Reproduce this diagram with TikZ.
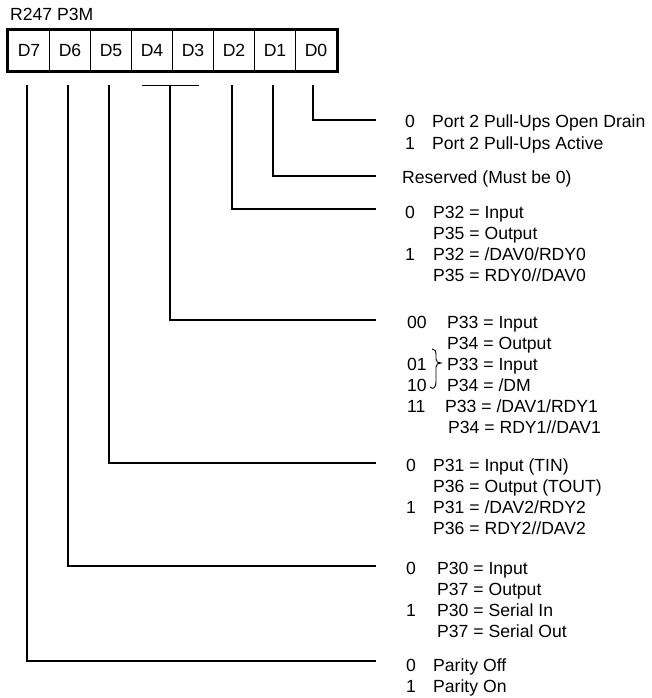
\documentclass[tikz,border=0pt]{standalone}
\usepackage{fontspec}
\setmainfont{Liberation Sans}
\begin{document}
\begin{tikzpicture}[x=1pt,y=-1pt,
  cell/.style={draw, line width=1.8pt, minimum width=41pt, minimum height=40pt, inner sep=0pt, font=\fontsize{17.6}{21}\selectfont},
  txt/.style={anchor=base west, inner sep=0pt, font=\fontsize{17.6}{21}\selectfont},
  wire/.style={line width=1.8pt}]
\useasboundingbox (0,0) rectangle (652,698);
% title
\node[txt] (title) at (10,21) {R247 P3M};
% register cells
\node[cell] (d7) at (29,50.5) {D7};
\node[cell] (d6) at (70,50.5) {D6};
\node[cell] (d5) at (111,50.5) {D5};
\node[cell] (d4) at (152,50.5) {D4};
\node[cell] (d3) at (193,50.5) {D3};
\node[cell] (d2) at (234,50.5) {D2};
\node[cell] (d1) at (275,50.5) {D1};
\node[cell] (d0) at (316,50.5) {D0};
\draw[line width=3.5pt] (d7.north west) rectangle (d0.south east);
% wire start / end points
\coordinate (s0) at (313,85.5);  \coordinate (e0) at (376,120);
\coordinate (s1) at (273,85.5);  \coordinate (e1) at (376,176);
\coordinate (s2) at (232,85.5);  \coordinate (e2) at (376,209);
\coordinate (s3) at (170,85.5);  \coordinate (e3) at (376,320);
\coordinate (tl) at (142,85.5);  \coordinate (tr) at (199,85.5);
\coordinate (s5) at (109,85.5);  \coordinate (e5) at (376,463);
\coordinate (s6) at (68,85.5);   \coordinate (e6) at (376,566);
\coordinate (s7) at (27,85.5);   \coordinate (e7) at (376,661);
\draw[wire] (s0) |- (e0);
\draw[wire] (s1) |- (e1);
\draw[wire] (s2) |- (e2);
\draw[wire] (tl) -- (tr);
\draw[wire] (s3) |- (e3);
\draw[wire] (s5) |- (e5);
\draw[wire] (s6) |- (e6);
\draw[wire] (s7) |- (e7);
% D0
\node[txt] (n0a) at (405,128) {0};  \node[txt] (t0a) at (432,128) {Port 2 Pull-Ups Open Drain};
\node[txt] (n0b) at (405,149) {1};  \node[txt] (t0b) at (432,149) {Port 2 Pull-Ups Active};
% D1
\node[txt] (t1a) at (402,183) {Reserved (Must be 0)};
% D2
\node[txt] (n2a) at (405,218) {0};  \node[txt] (t2a) at (433,218) {P32 = Input};
\node[txt] (t2b) at (433,239) {P35 = Output};
\node[txt] (n2c) at (405,260) {1};  \node[txt] (t2c) at (433,260) {P32 = /DAV0/RDY0};
\node[txt] (t2d) at (433,281) {P35 = RDY0//DAV0};
% D4 D3
\node[txt] (n3a) at (407,328) {00}; \node[txt] (t3a) at (447,328) {P33 = Input};
\node[txt] (t3b) at (447,349) {P34 = Output};
\node[txt] (n3c) at (407,370) {01}; \node[txt] (t3c) at (447,370) {P33 = Input};
\node[txt] (n3d) at (407,391) {10}; \node[txt] (t3d) at (447,391) {P34 = /DM};
\node[txt] (n3e) at (407,412) {11}; \node[txt] (t3e) at (445,412) {P33 = /DAV1/RDY1};
\node[txt] (t3f) at (448,433) {P34 = RDY1//DAV1};
\draw[line width=0.9pt] (432,349) .. controls (435,349) and (436,351) .. (436,355)
  -- (436,359) .. controls (436,362) and (438,363) .. (441,363)
  .. controls (438,363) and (436,364) .. (436,367)
  -- (436,381) .. controls (436,388) and (433,390) .. (430,387);
% D5
\node[txt] (n5a) at (406,471) {0};  \node[txt] (t5a) at (433,471) {P31 = Input (TIN)};
\node[txt] (t5b) at (433,492) {P36 = Output (TOUT)};
\node[txt] (n5c) at (406,513) {1};  \node[txt] (t5c) at (433,513) {P31 = /DAV2/RDY2};
\node[txt] (t5d) at (433,534) {P36 = RDY2//DAV2};
% D6
\node[txt] (n6a) at (406,574) {0};  \node[txt] (t6a) at (437,574) {P30 = Input};
\node[txt] (t6b) at (437,595) {P37 = Output};
\node[txt] (n6c) at (406,616) {1};  \node[txt] (t6c) at (437,616) {P30 = Serial In};
\node[txt] (t6d) at (437,637) {P37 = Serial Out};
% D7
\node[txt] (n7a) at (406,671) {0};  \node[txt] (t7a) at (433,671) {Parity Off};
\node[txt] (n7b) at (406,692) {1};  \node[txt] (t7b) at (433,692) {Parity On};
\end{tikzpicture}
\end{document}
